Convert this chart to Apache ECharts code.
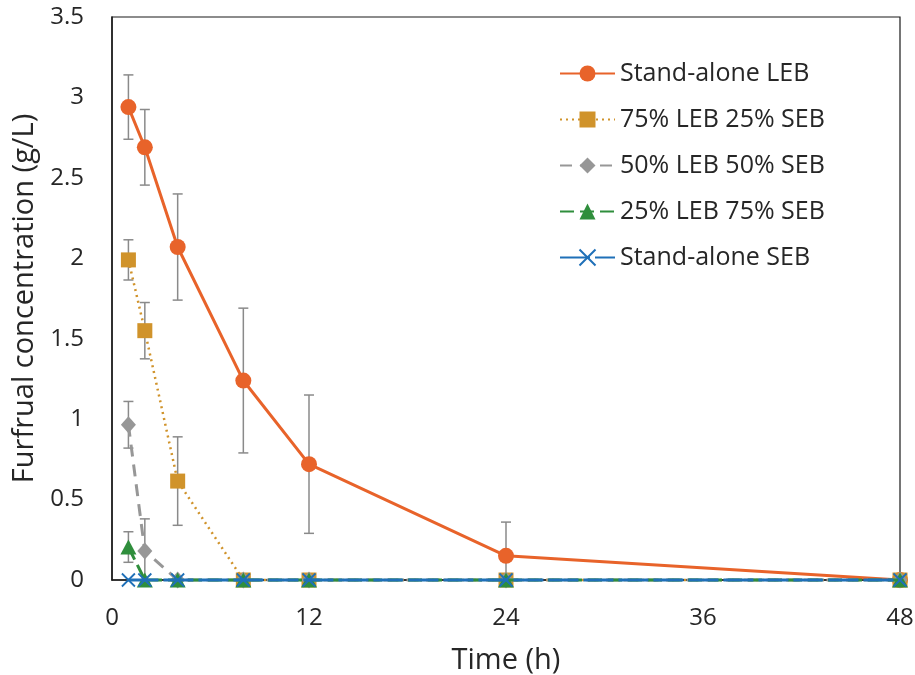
<!DOCTYPE html>
<html>
<head>
<meta charset="utf-8">
<script src="https://cdn.jsdelivr.net/npm/echarts@6/dist/echarts.min.js"></script>
<style>
  html, body { margin: 0; padding: 0; background: #fff; }
  #chart { width: 915px; height: 675px; }
</style>
</head>
<body>
<div id="chart"></div>
<script>
// Sampling times (h)
const times = [1, 2, 4, 8, 12, 24, 48];
const xTicks = [0, 12, 24, 36, 48];

// Furfural concentration (g/L) for each blend
const seriesNames = ['Stand-alone LEB', '75% LEB 25% SEB', '50% LEB 50% SEB', '25% LEB 75% SEB', 'Stand-alone SEB'];
const standAloneLEB = [2.94, 2.69, 2.07, 1.24, 0.72, 0.15, 0.0];
const leb75seb25   = [1.99, 1.55, 0.615, 0.0, 0.0, 0.0, 0.0];
const leb50seb50   = [0.965, 0.18, 0.0, 0.0, 0.0, 0.0, 0.0];
const leb25seb75   = [0.205, 0.0, 0.0, 0.0, 0.0, 0.0, 0.0];
const standAloneSEB = [0.0, 0.0, 0.0, 0.0, 0.0, 0.0, 0.0];

// Standard deviations (error bar half-lengths)
const errLEB      = [0.20, 0.235, 0.33, 0.45, 0.43, 0.21, 0.0];
const err75       = [0.125, 0.175, 0.275, 0.0, 0.0, 0.0, 0.0];
const err50       = [0.145, 0.20, 0.0, 0.0, 0.0, 0.0, 0.0];
const err25       = [0.095, 0.0, 0.0, 0.0, 0.0, 0.0, 0.0];

const allValues = [standAloneLEB, leb75seb25, leb50seb50, leb25seb75, standAloneSEB];
const allErrors = [errLEB, err75, err50, err25, null];

const colors = ['#E8632A', '#D0932B', '#979797', '#2F8E3C', '#1F70B8'];
const lineTypes = ['solid', [2, 4], [12, 8], [14, 6], [30, 5]];
const lineWidths = [3, 2.5, 3, 3, 3];
const symbols = ['circle', 'rect', 'diamond', 'triangle', 'path://M0,0L10,10M10,0L0,10'];
const symbolSizes = [16, 15, [15, 17], [16, 15], 13];

const fontFamily = '"Open Sans", "Noto Sans", sans-serif';
const textColor = '#262626';

// Build error bar data [x, low, high]
const errData = [];
allValues.forEach((vals, si) => {
  const errs = allErrors[si];
  if (!errs) return;
  vals.forEach((v, i) => {
    if (errs[i] > 0) errData.push([times[i], v - errs[i], v + errs[i]]);
  });
});

const series = [];
series.push({
  type: 'custom',
  name: 'errorbars',
  z: 1,
  silent: true,
  clip: false,
  data: errData,
  renderItem: function (params, api) {
    const x = api.value(0);
    const lowVal = api.value(1);
    const highVal = api.value(2);
    const clampedLow = Math.max(0, lowVal);
    const top = api.coord([x, highVal]);
    const bot = api.coord([x, clampedLow]);
    const cap = 5;
    const style = { stroke: '#8A8A8A', lineWidth: 1.5, fill: null };
    const children = [
      { type: 'line', shape: { x1: top[0], y1: top[1], x2: bot[0], y2: bot[1] }, style: style },
      { type: 'line', shape: { x1: top[0] - cap, y1: top[1], x2: top[0] + cap, y2: top[1] }, style: style }
    ];
    if (lowVal >= 0) {
      children.push({ type: 'line', shape: { x1: bot[0] - cap, y1: bot[1], x2: bot[0] + cap, y2: bot[1] }, style: style });
    }
    return { type: 'group', children: children };
  }
});

seriesNames.forEach((name, si) => {
  const isCross = si === 4;
  series.push({
    type: 'line',
    name: name,
    z: 2 + si,
    data: times.map((t, i) => [t, allValues[si][i]]),
    symbol: symbols[si],
    symbolSize: symbolSizes[si],
    showAllSymbol: true,
    clip: false,
    lineStyle: { color: colors[si], width: lineWidths[si], type: lineTypes[si] },
    itemStyle: isCross
      ? { color: 'rgba(0,0,0,0)', borderColor: colors[si], borderWidth: 1.8 }
      : { color: colors[si], borderWidth: 0 },
    emphasis: { disabled: true }
  });
});

const chart = echarts.init(document.getElementById('chart'), null, { renderer: 'canvas' });
chart.setOption({
  animation: false,
  backgroundColor: '#ffffff',
  grid: {
    left: 112, right: 15, top: 17, bottom: 95,
    outerBoundsMode: 'none',
    show: true, borderColor: '#1a1a1a', borderWidth: 1.2, backgroundColor: 'transparent'
  },
  legend: {
    orient: 'vertical',
    left: 559, top: 61, padding: 0,
    itemWidth: 55, itemHeight: 20, itemGap: 21,
    data: seriesNames,
    textStyle: { fontFamily: fontFamily, fontSize: 25, lineHeight: 25, color: textColor }
  },
  xAxis: {
    type: 'value',
    min: xTicks[0], max: xTicks[xTicks.length - 1], interval: 12,
    name: 'Time (h)',
    nameLocation: 'middle', nameGap: 66,
    nameTextStyle: { fontFamily: fontFamily, fontSize: 29, color: textColor },
    axisLine: { show: true, onZero: false, lineStyle: { color: '#1a1a1a', width: 1.5 } },
    axisTick: { show: false },
    splitLine: { show: false },
    axisLabel: { fontFamily: fontFamily, fontSize: 24, color: textColor, margin: 26 }
  },
  yAxis: {
    type: 'value',
    min: 0, max: 3.5, interval: 0.5,
    name: 'Furfrual concentration (g/L)',
    nameLocation: 'middle', nameGap: 73,
    nameTextStyle: { fontFamily: fontFamily, fontSize: 29, color: textColor },
    axisLine: { show: true, lineStyle: { color: '#1a1a1a', width: 1.5 } },
    axisTick: { show: false },
    splitLine: { show: false },
    axisLabel: { fontFamily: fontFamily, fontSize: 24, color: textColor, margin: 28 }
  },
  series: series
});
</script>
</body>
</html>
